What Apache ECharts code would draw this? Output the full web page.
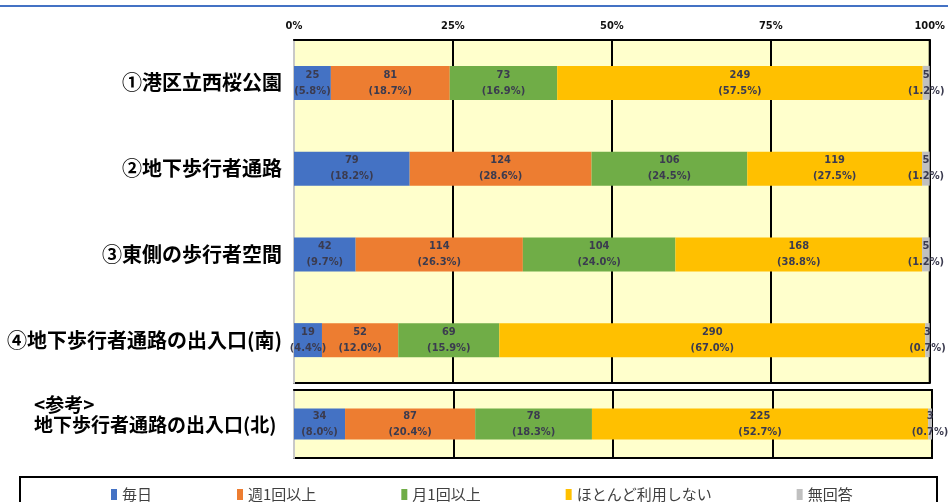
<!DOCTYPE html>
<html>
<head>
<meta charset="utf-8">
<script src="https://cdn.jsdelivr.net/npm/echarts@6/dist/echarts.min.js"></script>
<style>
  html, body { margin: 0; padding: 0; background: #ffffff; }
  #chart { width: 948px; height: 502px; }
</style>
</head>
<body>
<div id="chart"></div>
<script>
// Places surveyed (main block) and the reference place (lower block)
const places = ['①港区立西桜公園', '②地下歩行者通路', '③東側の歩行者空間', '④地下歩行者通路の出入口(南)'];
const refPlace = ['<参考>\n地下歩行者通路の出入口(北)'];

// Answer categories
const answers = ['毎日', '週1回以上', '月1回以上', 'ほとんど利用しない', '無回答'];
const answerColors = ['#4472C4', '#ED7D31', '#70AD47', '#FFC000', '#C0C0C0'];

// Respondent counts per answer, one value per place
const countDaily   = [25, 79, 42, 19];
const countWeekly  = [81, 124, 114, 52];
const countMonthly = [73, 106, 104, 69];
const countRarely  = [249, 119, 168, 290];
const countNoReply = [5, 5, 5, 3];

// Shares (%) per answer, one value per place
const pctDaily   = [5.8, 18.2, 9.7, 4.4];
const pctWeekly  = [18.7, 28.6, 26.3, 12.0];
const pctMonthly = [16.9, 24.5, 24.0, 15.9];
const pctRarely  = [57.5, 27.5, 38.8, 67.0];
const pctNoReply = [1.2, 1.2, 1.2, 0.7];

// Reference place (north entrance)
const refCounts = [34, 87, 78, 225, 3];
const refPct    = [8.0, 20.4, 18.3, 52.7, 0.7];

// Percentage axis ticks
const axisMin = 0, axisMax = 100, axisStep = 25;

const mainCounts = [countDaily, countWeekly, countMonthly, countRarely, countNoReply];
const mainPct = [pctDaily, pctWeekly, pctMonthly, pctRarely, pctNoReply];

const labelStyle = {
  show: true,
  position: 'inside',
  color: '#3b3b4f',
  fontSize: 11,
  fontWeight: 'bold',
  lineHeight: 16,
  fontFamily: 'DejaVu Sans Condensed, Liberation Sans Narrow, sans-serif'
};

const series = [];
answers.forEach((name, i) => {
  series.push({
    name: name,
    type: 'bar',
    stack: 'main',
    xAxisIndex: 0,
    yAxisIndex: 0,
    barWidth: 34,
    itemStyle: { color: answerColors[i] },
    data: mainPct[i],
    label: Object.assign({}, labelStyle, {
      formatter: p => mainCounts[i][p.dataIndex] + '\n(' + p.value.toFixed(1) + '%)'
    })
  });
});
answers.forEach((name, i) => {
  series.push({
    name: name,
    type: 'bar',
    stack: 'ref',
    xAxisIndex: 1,
    yAxisIndex: 1,
    barWidth: 31,
    itemStyle: { color: answerColors[i] },
    data: [refPct[i]],
    label: Object.assign({}, labelStyle, {
      formatter: p => refCounts[i] + '\n(' + p.value.toFixed(1) + '%)'
    })
  });
});

const catFont = 'Noto Sans CJK JP';

const xAxisBase = {
  type: 'value',
  min: axisMin,
  max: axisMax,
  interval: axisStep,
  axisTick: { show: false },
  splitLine: { show: true, lineStyle: { color: '#000', width: 2 } }
};

const option = {
  animation: false,
  backgroundColor: '#ffffff',
  grid: [
    { left: 294, right: 16, top: 40, height: 343, show: true,
      backgroundColor: '#FFFFCC', borderColor: '#000', borderWidth: 2 },
    { left: 294, right: 16, top: 390, height: 68, show: true,
      backgroundColor: '#FFFFCC', borderColor: '#000', borderWidth: 2 }
  ],
  xAxis: [
    Object.assign({}, xAxisBase, {
      gridIndex: 0,
      position: 'top',
      axisLine: { show: true, lineStyle: { color: '#000', width: 2 } },
      axisLabel: {
        formatter: '{value}%',
        color: '#111',
        fontSize: 11,
        fontWeight: 'bold',
        margin: 8,
        fontFamily: 'DejaVu Sans Condensed, sans-serif'
      }
    }),
    Object.assign({}, xAxisBase, {
      gridIndex: 1,
      position: 'top',
      axisLine: { show: true, lineStyle: { color: '#000', width: 2 } },
      axisLabel: { show: false }
    })
  ],
  yAxis: [
    {
      type: 'category',
      gridIndex: 0,
      inverse: true,
      data: places,
      axisTick: { show: false },
      axisLine: { show: true, lineStyle: { color: '#c8c8c8', width: 2 } },
      axisLabel: {
        color: '#000',
        fontSize: 20,
        fontWeight: 'bold',
        margin: 12,
        fontFamily: catFont
      }
    },
    {
      type: 'category',
      gridIndex: 1,
      inverse: true,
      data: refPlace,
      axisTick: { show: false },
      axisLine: { show: true, lineStyle: { color: '#c8c8c8', width: 2 } },
      axisLabel: {
        align: 'left',
        margin: 260,
        // two text lines plus an empty spacer line to lift the block
        formatter: v => v.split('\n').map(s => '{t|' + s + '}').join('\n') + '\n{s|}',
        rich: {
          t: { color: '#000', fontSize: 19, fontWeight: 'bold', lineHeight: 20, fontFamily: catFont },
          s: { fontSize: 1, lineHeight: 18 }
        }
      }
    }
  ],
  legend: {
    data: answers,
    left: 106,
    top: 482,
    itemWidth: 6,
    itemHeight: 11,
    itemGap: 85,
    icon: 'rect',
    textStyle: {
      color: '#404040',
      fontSize: 15,
      fontFamily: catFont
    }
  },
  graphic: [
    {
      type: 'rect',
      shape: { x: 20, y: 477, width: 917, height: 40 },
      style: { fill: 'none', stroke: '#000', lineWidth: 2 },
      z: -1
    },
    {
      type: 'line',
      shape: { x1: 0, y1: 6, x2: 948, y2: 6 },
      style: { stroke: '#4472C4', lineWidth: 2 }
    }
  ],
  series: series
};

const chart = echarts.init(document.getElementById('chart'), null, { renderer: 'canvas' });
chart.setOption(option);
</script>
</body>
</html>
